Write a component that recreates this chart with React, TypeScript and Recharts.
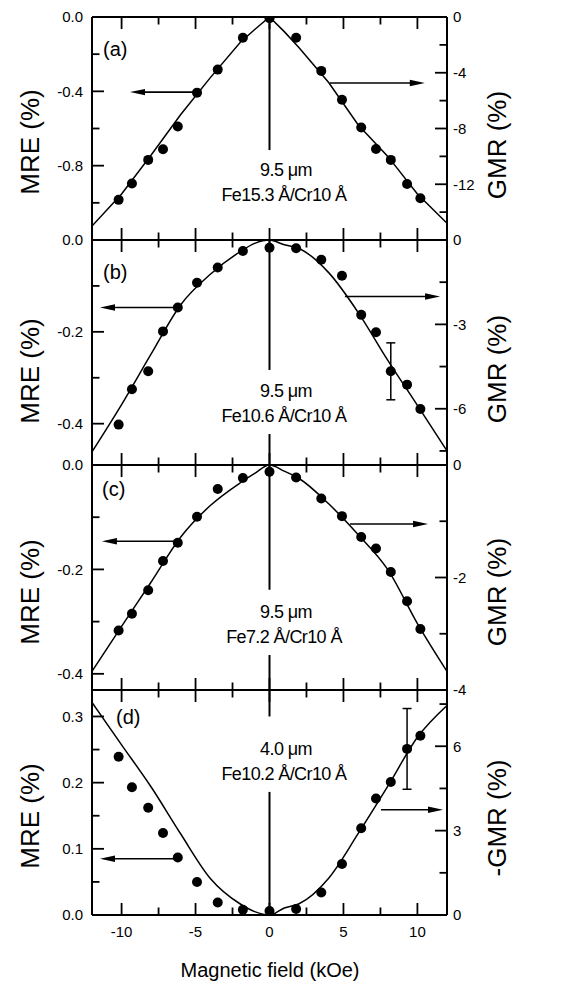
import React from "react";
import {
  ComposedChart,
  Scatter,
  Line,
  XAxis,
  YAxis,
  ReferenceLine,
  ErrorBar,
} from "recharts";

const FONT = '"Liberation Sans", Arial, sans-serif';

// field values (kOe) of the measured points, same in every panel
const FIELD = [-10.2, -9.3, -8.2, -7.2, -6.2, -4.9, -3.5, -1.8, 0, 1.8, 3.5, 4.9, 6.2, 7.2, 8.2, 9.3, 10.2];

// MRE (%) points
const MRE_A = [-0.984, -0.896, -0.769, -0.712, -0.589, -0.407, -0.283, -0.112, -0.007, -0.112, -0.29, -0.445, -0.595, -0.71, -0.769, -0.899, -0.975];
const MRE_B = [-0.402, -0.325, -0.286, -0.199, -0.147, -0.093, -0.06, -0.024, -0.017, -0.018, -0.043, -0.078, -0.163, -0.201, -0.286, -0.315, -0.368];
const MRE_C = [-0.317, -0.285, -0.24, -0.184, -0.149, -0.099, -0.046, -0.025, -0.013, -0.024, -0.064, -0.098, -0.138, -0.16, -0.205, -0.261, -0.314];
const MRE_D = [0.239, 0.193, 0.162, 0.124, 0.087, 0.05, 0.019, 0.008, 0.006, 0.009, 0.034, 0.077, 0.131, 0.176, 0.201, 0.251, 0.271];

// one error bar in (b) and (d)
const ERR_B = { index: 14, value: 0.062 };
const ERR_D = { index: 15, value: 0.061 };

// GMR (%) curves
const FIT_FIELD = [-12, -10, -8, -6, -4, -2, -1, 0, 1, 2, 4, 6, 8, 10, 12];
const GMR_A = [-15.0, -12.7, -9.9, -7.0, -4.35, -1.85, -0.9, 0, -1.05, -2.2, -4.7, -7.75, -10.0, -12.7, -14.8];
const GMR_B = [-7.53, -5.85, -4.05, -2.3, -1.22, -0.42, -0.12, 0, -0.17, -0.3, -1.16, -2.58, -4.28, -5.88, -7.5];
const GMR_C = [-3.67, -2.87, -2.08, -1.28, -0.72, -0.32, -0.15, 0, -0.11, -0.24, -0.69, -1.24, -1.86, -2.82, -3.67];
const NEG_GMR_D = [7.56, 6.05, 4.55, 2.88, 1.3, 0.4, 0.12, 0, 0.25, 0.4, 1.31, 2.9, 4.58, 6.32, 7.45];

// ticks
const X_TICKS = [-10, -7.5, -5, -2.5, 0, 2.5, 5, 7.5, 10];
const X_MAJOR = [-10, -5, 0, 5, 10];

const A_LEFT = [0, -0.2, -0.4, -0.6, -0.8, -1.0];
const A_LEFT_MAJOR = [0, -0.4, -0.8];
const A_RIGHT = [0, -2, -4, -6, -8, -10, -12, -14];
const A_RIGHT_MAJOR = [0, -4, -8, -12];
const B_LEFT = [0, -0.1, -0.2, -0.3, -0.4];
const B_LEFT_MAJOR = [0, -0.2, -0.4];
const B_RIGHT = [0, -1.5, -3, -4.5, -6, -7.5];
const B_RIGHT_MAJOR = [0, -3, -6];
const C_LEFT = [0, -0.1, -0.2, -0.3, -0.4];
const C_LEFT_MAJOR = [0, -0.2, -0.4];
const C_RIGHT = [0, -1, -2, -3, -4];
const C_RIGHT_MAJOR = [0, -2, -4];
const D_LEFT = [0, 0.05, 0.1, 0.15, 0.2, 0.25, 0.3];
const D_LEFT_MAJOR = [0, 0.1, 0.2, 0.3];
const D_RIGHT = [0, 1.5, 3, 4.5, 6, 7.5];
const D_RIGHT_MAJOR = [0, 3, 6];

const W = 570;
const H = 986;
const PLOT_LEFT = 92;
const PLOT_RIGHT = 447;
const AX = 1; // axis box size
const MAJOR_LEN = 12;
const MINOR_LEN = 7.5;

const has = (arr: number[], v: number) => arr.some((m) => Math.abs(m - v) < 1e-9);

const leftTick = (major: number[]) => (p: any) => {
  const v = p.payload.value;
  const m = has(major, v);
  return (
    <g>
      <line x1={p.x} x2={p.x + (m ? MAJOR_LEN : MINOR_LEN)} y1={p.y} y2={p.y} stroke="#000" strokeWidth={1.8} />
      {m && (
        <text x={p.x - 9} y={p.y} dy="0.36em" textAnchor="end" fontFamily={FONT} fontSize={15} fill="#000">
          {v.toFixed(1)}
        </text>
      )}
    </g>
  );
};

const rightTick = (major: number[]) => (p: any) => {
  const v = p.payload.value;
  const m = has(major, v);
  return (
    <g>
      <line x1={p.x} x2={p.x - (m ? MAJOR_LEN : MINOR_LEN)} y1={p.y} y2={p.y} stroke="#000" strokeWidth={1.8} />
      {m && (
        <text x={p.x + 6} y={p.y} dy="0.36em" textAnchor="start" fontFamily={FONT} fontSize={15} fill="#000">
          {String(v)}
        </text>
      )}
    </g>
  );
};

const topTick = (p: any) => {
  const m = has(X_MAJOR, p.payload.value);
  return <line x1={p.x} x2={p.x} y1={p.y} y2={p.y + (m ? MAJOR_LEN : MINOR_LEN)} stroke="#000" strokeWidth={1.8} />;
};

const bottomTick = (withLabels: boolean) => (p: any) => {
  const v = p.payload.value;
  const m = has(X_MAJOR, v);
  return (
    <g>
      <line x1={p.x} x2={p.x} y1={p.y} y2={p.y - (m ? MAJOR_LEN : MINOR_LEN)} stroke="#000" strokeWidth={1.8} />
      {withLabels && m && (
        <text x={p.x} y={p.y + 22} textAnchor="middle" fontFamily={FONT} fontSize={15} fill="#000">
          {String(v)}
        </text>
      )}
    </g>
  );
};

const Arrow = (p: any) => {
  const { x1, y1, x2, y2 } = p;
  const dir = x2 > x1 ? 1 : -1;
  const L = 15;
  const hw = 3.2;
  return (
    <g>
      <line x1={x1} y1={y1} x2={x2 - dir * L * 0.5} y2={y2} stroke="#000" strokeWidth={1.6} />
      <polygon points={`${x2},${y2} ${x2 - dir * L},${y2 - hw} ${x2 - dir * L},${y2 + hw}`} fill="#000" />
    </g>
  );
};

const Dot = (p: any) => <circle cx={p.cx} cy={p.cy} r={5} fill="#000" />;

type PanelProps = {
  top: number;
  bottom: number;
  leftDomain: [number, number];
  leftTicks: number[];
  leftMajor: number[];
  rightDomain: [number, number];
  rightTicks: number[];
  rightMajor: number[];
  mre: number[];
  err?: { index: number; value: number };
  gmr: number[];
  curve: "linear" | "monotone";
  xLabels?: boolean;
  arrows: { y: number; from: number; to: number }[];
  vLines: [number, number][];
  tag: string;
  tagX: number;
  tagY: number;
  thickness: string;
  sample: string;
  textY: number;
  leftTitle: string;
  leftTitleY: number;
  rightTitle: string;
  rightTitleY: number;
};

const axisLine = { stroke: "#000", strokeWidth: 2 };

function Panel(props: PanelProps) {
  const pts = FIELD.map((x, i) => ({
    x,
    y: props.mre[i],
    err: props.err && props.err.index === i ? props.err.value : undefined,
  }));
  const fit = FIT_FIELD.map((x, i) => ({ x, g: props.gmr[i] }));
  return (
    <div style={{ position: "absolute", left: 0, top: 0 }}>
      <ComposedChart
        width={W}
        height={H}
        margin={{
          top: props.top - AX,
          bottom: H - props.bottom - AX,
          left: PLOT_LEFT - AX,
          right: W - PLOT_RIGHT - AX,
        }}
      >
        <XAxis
          xAxisId={0}
          dataKey="x"
          type="number"
          domain={[-12, 12]}
          allowDataOverflow
          ticks={X_TICKS}
          interval={0}
          height={AX}
          tickSize={0}
          tickMargin={0}
          tickLine={false}
          axisLine={axisLine}
          tick={bottomTick(!!props.xLabels)}
        />
        <XAxis
          xAxisId="top"
          orientation="top"
          dataKey="x"
          type="number"
          domain={[-12, 12]}
          allowDataOverflow
          ticks={X_TICKS}
          interval={0}
          height={AX}
          tickSize={0}
          tickMargin={0}
          tickLine={false}
          axisLine={axisLine}
          tick={topTick}
        />
        <YAxis
          yAxisId="left"
          dataKey="y"
          type="number"
          domain={props.leftDomain}
          allowDataOverflow
          ticks={props.leftTicks}
          interval={0}
          width={AX}
          tickSize={0}
          tickMargin={0}
          tickLine={false}
          axisLine={axisLine}
          tick={leftTick(props.leftMajor)}
        />
        <YAxis
          yAxisId="right"
          orientation="right"
          type="number"
          domain={props.rightDomain}
          allowDataOverflow
          ticks={props.rightTicks}
          interval={0}
          width={AX}
          tickSize={0}
          tickMargin={0}
          tickLine={false}
          axisLine={axisLine}
          tick={rightTick(props.rightMajor)}
        />
        {props.vLines.map(([a, b], i) => (
          <ReferenceLine
            key={"v" + i}
            yAxisId="left"
            segment={[{ x: 0, y: a }, { x: 0, y: b }]}
            stroke="#000"
            strokeWidth={2}
          />
        ))}
        {props.arrows.map((a, i) => (
          <ReferenceLine
            key={"a" + i}
            yAxisId="left"
            segment={[{ x: a.from, y: a.y }, { x: a.to, y: a.y }]}
            shape={Arrow}
          />
        ))}
        <Line
          yAxisId="right"
          data={fit}
          dataKey="g"
          type={props.curve}
          stroke="#000"
          strokeWidth={1.5}
          dot={false}
          isAnimationActive={false}
        />
        <Scatter yAxisId="left" data={pts} shape={Dot} isAnimationActive={false}>
          {props.err && (
            <ErrorBar dataKey="err" direction="y" width={4.5} stroke="#000" strokeWidth={1.5} />
          )}
        </Scatter>
        <text x={props.tagX} y={props.tagY} fontFamily={FONT} fontSize={20} fill="#000">
          {props.tag}
        </text>
        <text x={286} y={props.textY} textAnchor="middle" fontFamily={FONT} fontSize={18} letterSpacing={-0.6} fill="#000">
          {props.thickness}
        </text>
        <text x={284} y={props.textY + 25} textAnchor="middle" fontFamily={FONT} fontSize={18} letterSpacing={-0.6} fill="#000">
          {props.sample}
        </text>
        <text
          x={39}
          y={props.leftTitleY}
          transform={`rotate(-90 39 ${props.leftTitleY})`}
          textAnchor="middle"
          fontFamily={FONT}
          fontSize={26}
          fill="#000"
        >
          {props.leftTitle}
        </text>
        <text
          x={506}
          y={props.rightTitleY}
          transform={`rotate(-90 506 ${props.rightTitleY})`}
          textAnchor="middle"
          fontFamily={FONT}
          fontSize={26}
          fill="#000"
        >
          {props.rightTitle}
        </text>
        {props.xLabels && (
          <text x={270} y={977} textAnchor="middle" fontFamily={FONT} fontSize={20} fill="#000">
            Magnetic field (kOe)
          </text>
        )}
      </ComposedChart>
    </div>
  );
}

export default function App() {
  return (
    <div style={{ position: "absolute", left: 0, top: 0, width: W, height: H, background: "#fff" }}>
      <Panel
        top={17}
        bottom={240}
        leftDomain={[-1.2, 0]}
        leftTicks={A_LEFT}
        leftMajor={A_LEFT_MAJOR}
        rightDomain={[-16, 0]}
        rightTicks={A_RIGHT}
        rightMajor={A_RIGHT_MAJOR}
        mre={MRE_A}
        gmr={GMR_A}
        curve="linear"
        arrows={[
          { y: -0.404, from: -4.9, to: -9.43 },
          { y: -0.355, from: 4.09, to: 10.5 },
        ]}
        vLines={[[0, -0.716]]}
        tag="(a)"
        tagX={103}
        tagY={56}
        thickness="9.5 μm"
        sample="Fe15.3 Å/Cr10 Å"
        textY={176}
        leftTitle="MRE (%)"
        leftTitleY={142}
        rightTitle="GMR (%)"
        rightTitleY={145}
      />
      <Panel
        top={240}
        bottom={465}
        leftDomain={[-0.49, 0]}
        leftTicks={B_LEFT}
        leftMajor={B_LEFT_MAJOR}
        rightDomain={[-8, 0]}
        rightTicks={B_RIGHT}
        rightMajor={B_RIGHT_MAJOR}
        mre={MRE_B}
        err={ERR_B}
        gmr={GMR_B}
        curve="monotone"
        arrows={[
          { y: -0.147, from: -6.2, to: -11.46 },
          { y: -0.123, from: 5.1, to: 11.53 },
        ]}
        vLines={[
          [0, -0.283],
          [-0.4225, -0.49],
        ]}
        tag="(b)"
        tagX={103}
        tagY={279}
        thickness="9.5 μm"
        sample="Fe10.6 Å/Cr10 Å"
        textY={397}
        leftTitle="MRE (%)"
        leftTitleY={371}
        rightTitle="GMR (%)"
        rightTitleY={369}
      />
      <Panel
        top={465}
        bottom={690}
        leftDomain={[-0.431, 0]}
        leftTicks={C_LEFT}
        leftMajor={C_LEFT_MAJOR}
        rightDomain={[-4, 0]}
        rightTicks={C_RIGHT}
        rightMajor={C_RIGHT_MAJOR}
        mre={MRE_C}
        gmr={GMR_C}
        curve="monotone"
        arrows={[
          { y: -0.146, from: -6.2, to: -11.33 },
          { y: -0.113, from: 5.44, to: 10.72 },
        ]}
        vLines={[
          [0, -0.239],
          [-0.364, -0.431],
        ]}
        tag="(c)"
        tagX={102}
        tagY={496}
        thickness="9.5 μm"
        sample="Fe7.2 Å/Cr10 Å"
        textY={618}
        leftTitle="MRE (%)"
        leftTitleY={592}
        rightTitle="GMR (%)"
        rightTitleY={592}
      />
      <Panel
        top={690}
        bottom={915}
        leftDomain={[0, 0.34]}
        leftTicks={D_LEFT}
        leftMajor={D_LEFT_MAJOR}
        rightDomain={[0, 8]}
        rightTicks={D_RIGHT}
        rightMajor={D_RIGHT_MAJOR}
        mre={MRE_D}
        err={ERR_D}
        gmr={NEG_GMR_D}
        curve="monotone"
        xLabels
        arrows={[
          { y: 0.085, from: -6.2, to: -11.46 },
          { y: 0.159, from: 7.54, to: 11.73 },
        ]}
        vLines={[
          [0.34, 0.3],
          [0.186, 0],
        ]}
        tag="(d)"
        tagX={116}
        tagY={724}
        thickness="4.0 μm"
        sample="Fe10.2 Å/Cr10 Å"
        textY={755}
        leftTitle="MRE (%)"
        leftTitleY={816}
        rightTitle="-GMR (%)"
        rightTitleY={818}
      />
    </div>
  );
}
